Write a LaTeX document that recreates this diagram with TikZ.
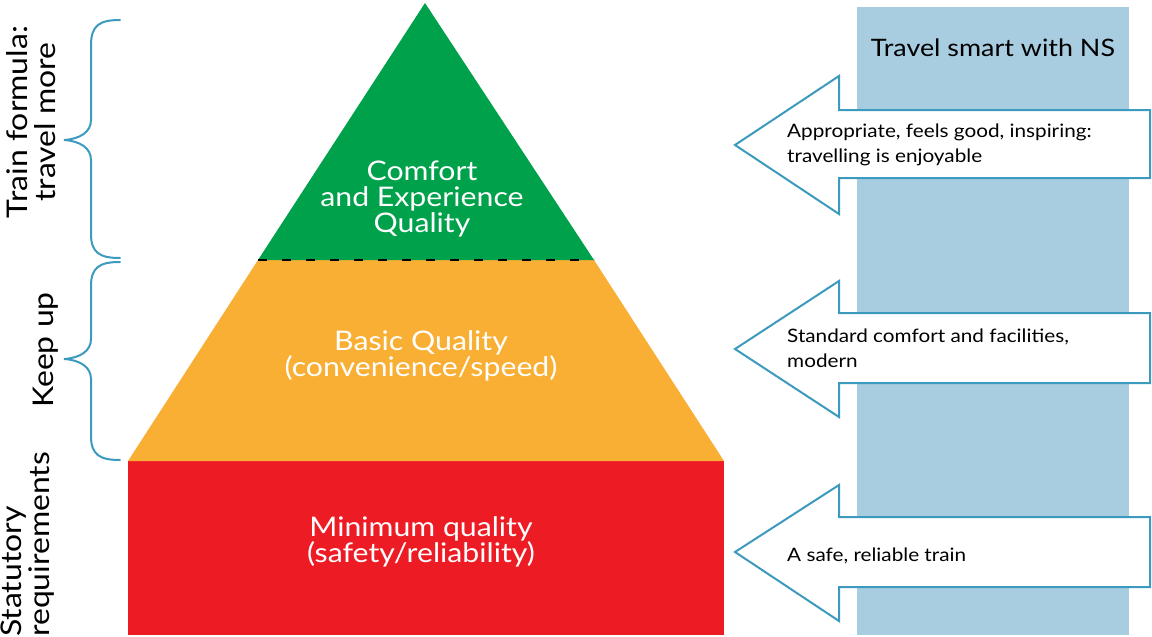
\documentclass[tikz,border=0pt]{standalone}
\usepackage{fontspec}
\setmainfont{Lato}[FakeStretch=1.12]
\definecolor{tiergreen}{RGB}{0,161,75}
\definecolor{tierorange}{RGB}{249,174,52}
\definecolor{tierred}{RGB}{237,28,36}
\definecolor{panelblue}{RGB}{169,205,224}
\definecolor{lineblue}{RGB}{60,154,190}
\begin{document}
\begin{tikzpicture}[x=1pt,y=-1pt,
  tiertext/.style={text=white,align=center,font=\fontsize{27}{26}\selectfont,inner sep=0pt},
  sidetext/.style={rotate=90,align=center,font=\fontsize{28.5}{28}\selectfont,inner sep=0pt},
  notetext/.style={anchor=west,align=left,font=\fontsize{18.5}{25}\selectfont,inner sep=0pt},
  callout/.style={fill=white,draw=lineblue,line width=2pt,line join=miter},
  bracket/.style={draw=lineblue,line width=2pt,line cap=round}]
\useasboundingbox (0,0) rectangle (1152,637);

% background panel
\fill[panelblue] (857,7) rectangle (1129,635);
\node[font=\fontsize{24}{26}\selectfont,inner sep=0pt] (panelTitle) at (993,48) {Travel smart with NS};

% pyramid tiers
\fill[tierred] (128,461) rectangle (724,635);
\fill[tierorange] (128,461) -- (258,260) -- (594,260) -- (724,461) -- cycle;
\fill[tiergreen] (425,3) -- (258,260) -- (594,260) -- cycle;
\draw[black,line width=2.5pt,dash pattern=on 9pt off 15pt] (258,260) -- (594,260);

\node[tiertext] (topTier) at (422,199) {Comfort\\and Experience\\Quality};
\node[tiertext] (midTier) at (421,356) {Basic Quality\\(convenience/speed)};
\node[tiertext] (baseTier) at (421,542) {Minimum quality\\(safety/reliability)};

% braces on the left
\draw[bracket] (120,20) .. controls (100,20) and (91,25) .. (91,45) -- (91,120)
  .. controls (91,132) and (80,139) .. (64,140)
  .. controls (80,141) and (91,148) .. (91,160) -- (91,234)
  .. controls (91,253) and (100,258) .. (120,258);
\draw[bracket] (120,262) .. controls (100,262) and (91,267) .. (91,286) -- (91,339)
  .. controls (91,351) and (80,358) .. (64,359)
  .. controls (80,360) and (91,367) .. (91,379) -- (91,436)
  .. controls (91,455) and (100,460) .. (120,460);

\node[sidetext] (travelMore) at (31,122) {Train formula:\\travel more};
\node[sidetext] (keepUp) at (46,350) {Keep up};
\node[sidetext,align=left,anchor=west] (statutory) at (28,637) {Statutory\\requirements};

% callout arrows
\draw[callout] (1150,110) -- (839,110) -- (839,76) -- (735,145) -- (839,214) -- (839,178) -- (1150,178) -- cycle;
\draw[callout] (1150,313) -- (839,313) -- (839,281) -- (735,349) -- (839,417) -- (839,383) -- (1150,383) -- cycle;
\draw[callout] (1150,517) -- (839,517) -- (839,485) -- (735,552) -- (839,621) -- (839,587) -- (1150,587) -- cycle;

\node[notetext] (noteTop) at (787,145) {Appropriate, feels good, inspiring:\\travelling is enjoyable};
\node[notetext] (noteMid) at (787,348) {Standard comfort and facilities,\\modern};
\node[notetext] (noteBase) at (787,556) {A safe, reliable train};
\end{tikzpicture}
\end{document}
